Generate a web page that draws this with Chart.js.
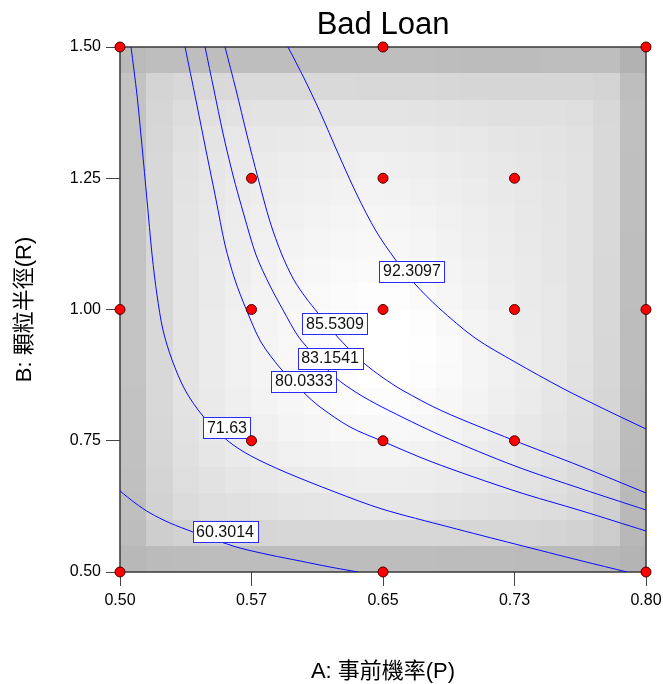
<!DOCTYPE html>
<html><head><meta charset="utf-8">
<script src="https://cdn.jsdelivr.net/npm/chart.js@4"></script>
<style>html,body{margin:0;padding:0;background:#fff}</style>
</head><body>
<canvas id="c" width="663" height="684"></canvas>
<script>
// ---- data ----
const xTickValues = [0.5, 0.575, 0.65, 0.725, 0.8];
const xTickLabels = ['0.50', '0.57', '0.65', '0.73', '0.80'];
const yTickValues = [0.5, 0.75, 1.0, 1.25, 1.5];
const yTickLabels = ['0.50', '0.75', '1.00', '1.25', '1.50'];

const designX = [0.5, 0.5, 0.5, 0.575, 0.575, 0.575, 0.65, 0.65, 0.65, 0.65, 0.65, 0.725, 0.725, 0.725, 0.8, 0.8, 0.8];
const designY = [0.5, 1.0, 1.5, 0.75, 1.0, 1.25, 0.5, 0.75, 1.0, 1.25, 1.5, 0.75, 1.0, 1.25, 0.5, 1.0, 1.5];

const contour92 = [[0.5958,1.5],[0.6049,1.441],[0.6141,1.3762],[0.6243,1.2981],[0.6352,1.2181],[0.646,1.1495],[0.6568,1.0962],[0.6677,1.0505],[0.6819,1.0029],[0.7025,0.9457],[0.7253,0.9],[0.7521,0.8505],[0.7761,0.8105],[0.8,0.7724]];
const contour85 = [[0.5599,1.5],[0.5662,1.4181],[0.5724,1.3324],[0.5787,1.2505],[0.5856,1.1667],[0.5924,1.1038],[0.5992,1.0562],[0.6061,1.0219],[0.6129,0.9933],[0.6226,0.9533],[0.6312,0.9229],[0.6397,0.8962],[0.6494,0.8714],[0.6608,0.8467],[0.6837,0.8067],[0.7241,0.7514],[0.7624,0.7019],[0.8,0.6505]];
const contour83 = [[0.5485,1.5],[0.5536,1.4181],[0.5587,1.3362],[0.5644,1.2562],[0.5707,1.18],[0.5776,1.1038],[0.5856,1.0448],[0.593,0.999],[0.6015,0.9495],[0.6112,0.9114],[0.6232,0.8695],[0.6352,0.841],[0.6494,0.8143],[0.6837,0.759],[0.7253,0.7019],[0.7635,0.6581],[0.8,0.6181]];
const contour80 = [[0.5371,1.5],[0.5433,1.399],[0.549,1.3038],[0.5548,1.2086],[0.5599,1.1229],[0.5656,1.0562],[0.5719,1.001],[0.5804,0.9381],[0.5918,0.8867],[0.6044,0.8429],[0.6141,0.8143],[0.6312,0.7762],[0.6494,0.7495],[0.678,0.7095],[0.7253,0.6543],[0.7635,0.6162],[0.8,0.5781]];
const contour71 = [[0.5063,1.5],[0.5097,1.4086],[0.5125,1.3133],[0.5154,1.2086],[0.5183,1.1038],[0.5211,1.0276],[0.5245,0.961],[0.5297,0.9038],[0.5371,0.8467],[0.5473,0.7971],[0.5616,0.7495],[0.5747,0.721],[0.5941,0.6905],[0.6226,0.6524],[0.6494,0.62],[0.6876,0.5857],[0.7253,0.5533],[0.7635,0.521],[0.7892,0.5]];
const contour60 = [[0.5,0.6543],[0.5086,0.6314],[0.5171,0.6124],[0.5285,0.5933],[0.5416,0.5762],[0.5542,0.561],[0.5684,0.5457],[0.5856,0.5324],[0.6027,0.521],[0.6198,0.5095],[0.6357,0.5]];

const contourLabels = ['92.3097', '85.5309', '83.1541', '80.0333', '71.63', '60.3014'];
const labelX = [0.6665, 0.6226, 0.6198, 0.6049, 0.5610, 0.5599];
const labelY = [1.0733, 0.9724, 0.9076, 0.8638, 0.7743, 0.5762];

// gray level of each shaded cell, top row first, left to right
const shadeRows = [
 [186,190,190,190,190,190,190,190,190,190,190,190,189,188,188,188,190,190,190,178],
 [195,212,216,217,218,218,218,217,217,216,216,216,215,214,214,214,214,214,212,190],
 [195,214,221,224,226,227,227,228,228,228,228,227,226,225,224,224,224,222,216,192],
 [195,215,224,228,231,232,233,234,235,235,235,234,232,231,229,228,227,225,217,192],
 [195,216,226,230,233,235,237,238,239,240,239,238,236,234,232,230,228,226,217,191],
 [195,216,227,231,235,237,239,241,242,243,242,240,238,236,233,231,229,226,217,191],
 [195,216,228,232,236,239,241,243,245,246,245,243,240,238,235,232,229,226,217,191],
 [195,216,228,233,237,240,243,245,247,248,247,245,242,239,236,233,230,226,217,190],
 [195,216,228,234,238,242,245,247,249,250,250,248,244,241,237,234,230,226,216,190],
 [195,216,228,234,239,243,246,249,251,253,253,250,246,242,238,234,231,226,216,190],
 [195,216,228,235,240,244,247,250,253,255,255,253,248,244,240,235,231,226,216,189],
 [195,216,228,235,240,244,248,251,254,255,255,254,250,245,240,236,231,226,215,189],
 [195,216,228,235,240,244,248,251,253,255,255,253,249,245,240,236,231,225,215,189],
 [194,216,227,234,239,243,246,249,251,252,252,250,247,243,239,235,230,224,214,188],
 [194,215,226,232,237,240,244,246,248,248,248,247,244,240,236,232,228,223,213,188],
 [193,214,224,230,234,237,240,242,243,244,244,242,240,237,234,230,226,221,212,187],
 [192,212,222,226,230,232,234,236,237,238,238,237,235,233,230,227,224,219,210,186],
 [191,210,219,222,224,226,228,229,230,230,230,230,228,227,225,223,221,217,208,185],
 [189,206,210,212,213,214,215,215,215,215,215,215,215,214,213,213,212,210,204,184],
 [184,187,188,189,189,189,189,189,189,189,189,189,188,188,188,187,187,186,185,180]
];

// ---- chart ----
const FAMILY = "'Liberation Sans', Arial, 'Noto Sans CJK TC', sans-serif";
const toPts = arr => arr.map(p => ({x: p[0], y: p[1]}));
const contours = [contour92, contour85, contour83, contour80, contour71, contour60];

const contourSets = contours.map((c, i) => ({
  type: 'line',
  label: contourLabels[i],
  data: toPts(c),
  borderColor: '#0a0aff',
  borderWidth: 1,
  pointRadius: 0,
  tension: 0.3,
  fill: false,
  showLine: true
}));

const pointSet = {
  type: 'scatter',
  label: 'design',
  data: designX.map((x, i) => ({x: x, y: designY[i]})),
  pointRadius: 5,
  pointBackgroundColor: '#ff0000',
  pointBorderColor: '#4a0000',
  pointBorderWidth: 1,
  showLine: false,
  clip: false
};

const surfacePlugin = {
  id: 'surface',
  beforeDatasetsDraw(chart) {
    const {ctx, chartArea, scales: {x, y}} = chart;
    const nR = shadeRows.length, nC = shadeRows[0].length;
    const x0v = x.min, x1v = x.max, y0v = y.max, y1v = y.min;
    ctx.save();
    for (let r = 0; r < nR; r++) {
      const ya = Math.round(y.getPixelForValue(y0v + (y1v - y0v) * r / nR));
      const yb = Math.round(y.getPixelForValue(y0v + (y1v - y0v) * (r + 1) / nR));
      for (let c = 0; c < nC; c++) {
        const xa = Math.round(x.getPixelForValue(x0v + (x1v - x0v) * c / nC));
        const xb = Math.round(x.getPixelForValue(x0v + (x1v - x0v) * (c + 1) / nC));
        const g = shadeRows[r][c];
        ctx.fillStyle = 'rgb(' + g + ',' + g + ',' + g + ')';
        ctx.fillRect(xa, ya, xb - xa, yb - ya);
      }
    }
    ctx.strokeStyle = '#3a3a3a';
    ctx.lineWidth = 1.5;
    ctx.strokeRect(chartArea.left, chartArea.top, chartArea.right - chartArea.left, chartArea.bottom - chartArea.top);
    ctx.restore();
  },
  afterDatasetDraw(chart, args) {
    if (args.index !== 1) return;
    const {ctx, scales: {x, y}} = chart;
    ctx.save();
    ctx.font = '16px ' + FAMILY;
    ctx.textAlign = 'center';
    ctx.textBaseline = 'middle';
    contourLabels.forEach((t, i) => {
      const cx = x.getPixelForValue(labelX[i]);
      const cy = y.getPixelForValue(labelY[i]);
      const w = Math.round(ctx.measureText(t).width + 7);
      const h = 21;
      const lx = Math.round(cx - w / 2) + 0.5, ly = Math.round(cy - h / 2) + 0.5;
      ctx.fillStyle = '#ffffff';
      ctx.fillRect(lx, ly, w, h);
      ctx.strokeStyle = '#2a2aff';
      ctx.lineWidth = 1;
      ctx.strokeRect(lx, ly, w, h);
      ctx.fillStyle = '#111111';
      ctx.fillText(t, cx, cy + 1);
    });
    ctx.restore();
  }
};

new Chart(document.getElementById('c'), {
  type: 'scatter',
  data: {datasets: [pointSet].concat(contourSets)},
  options: {
    responsive: false,
    animation: false,
    events: [],
    layout: {padding: {left: 0, right: 17, top: 0, bottom: 0}},
    plugins: {
      legend: {display: false},
      tooltip: {enabled: false},
      title: {
        display: true, text: 'Bad Loan', fullSize: false, color: '#000',
        font: {family: FAMILY, size: 31, weight: 'normal', lineHeight: 1.2},
        padding: {top: 7, bottom: 2.8}
      }
    },
    scales: {
      x: {
        type: 'linear', min: 0.5, max: 0.8,
        afterBuildTicks: s => { s.ticks = xTickValues.map(v => ({value: v})); },
        afterFit: s => { s.height = 112; s.paddingLeft = 0; s.paddingRight = 0; },
        ticks: {callback: (v, i) => xTickLabels[i], color: '#000', font: {family: FAMILY, size: 16}, padding: 5, maxRotation: 0, autoSkip: false},
        grid: {drawOnChartArea: false, drawTicks: true, tickLength: 14, color: '#444', tickColor: '#444'},
        border: {display: false},
        title: {display: true, text: 'A: 事前機率(P)', color: '#000', font: {family: FAMILY, size: 22, lineHeight: 1.0}, padding: {top: 0, bottom: 1}}
      },
      y: {
        type: 'linear', min: 0.5, max: 1.5,
        afterBuildTicks: s => { s.ticks = yTickValues.map(v => ({value: v})); },
        afterFit: s => { s.width = 120; s.paddingTop = 0; s.paddingBottom = 0; },
        ticks: {callback: (v, i) => yTickLabels[i], color: '#000', font: {family: FAMILY, size: 16}, padding: 5, autoSkip: false},
        grid: {drawOnChartArea: false, drawTicks: true, tickLength: 14, color: '#444', tickColor: '#444'},
        border: {display: false},
        title: {display: true, text: 'B: 顆粒半徑(R)', color: '#000', font: {family: FAMILY, size: 22, lineHeight: 1.0}, padding: {top: 14, bottom: 0}}
      }
    }
  },
  plugins: [surfacePlugin]
});
</script>
</body></html>
